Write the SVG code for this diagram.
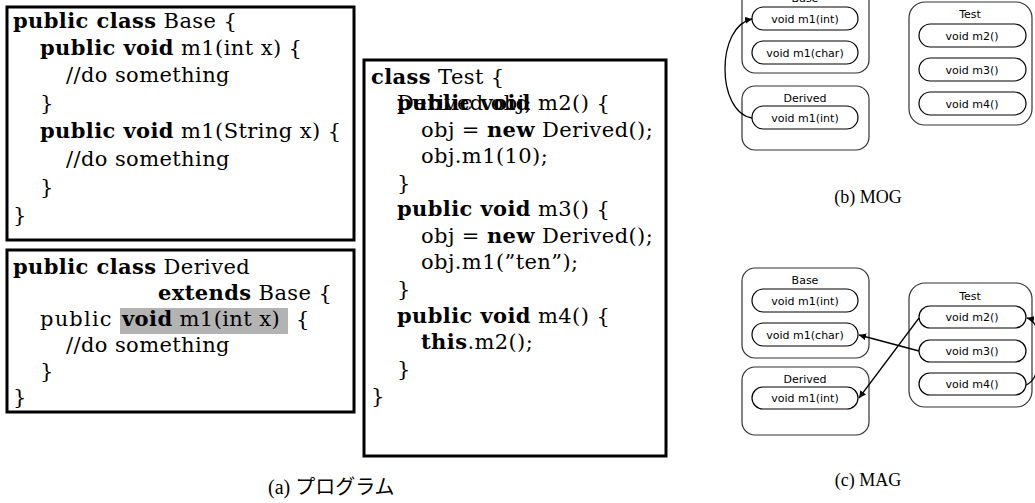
<svg xmlns="http://www.w3.org/2000/svg" width="1035" height="503" viewBox="0 0 1035 503">
<style>
.box{fill:#fff;stroke:#000;stroke-width:3}
.code{font-family:"DejaVu Serif","Liberation Serif",serif;font-size:21px;letter-spacing:0.4px;fill:#000}
.b{font-weight:bold}
.cap{font-family:"Liberation Serif","Noto Sans CJK JP",serif;font-size:20px;fill:#000}
.capr{font-family:"Liberation Serif",serif;font-size:18px;fill:#000;text-anchor:middle}
.cls{fill:#fff;stroke:#333;stroke-width:1.2}
.pill{fill:#fff;stroke:#000;stroke-width:1.2}
.lbl{font-family:"DejaVu Sans","Liberation Sans",sans-serif;font-size:11px;fill:#000;text-anchor:middle}
.edge{fill:none;stroke:#000;stroke-width:1.3}
</style>
<defs>
<marker id="ah" viewBox="0 0 10 10" refX="10" refY="5" markerWidth="7" markerHeight="7" orient="auto" markerUnits="userSpaceOnUse">
<path d="M0,0 L10,5 L0,10 z" fill="#000"/>
</marker>
</defs>

<g id="code-base">
<rect class="box" x="7" y="7" width="347" height="233"/>
<text class="code" x="13" y="28"><tspan class="b">public class</tspan> Base {</text>
<text class="code" x="40" y="55"><tspan class="b">public void</tspan> m1(int x) {</text>
<text class="code" x="66" y="82">//do something</text>
<text class="code" x="40" y="110">}</text>
<text class="code" x="40" y="138"><tspan class="b">public void</tspan> m1(String x) {</text>
<text class="code" x="66" y="166">//do something</text>
<text class="code" x="40" y="194">}</text>
<text class="code" x="13" y="222">}</text>
</g>

<g id="code-derived">
<rect class="box" x="7" y="250" width="347" height="162"/>
<rect x="120" y="308" width="168" height="26" fill="#b3b3b3"/>
<text class="code" x="40" y="326" textLength="72">public</text>
<text class="code" x="13" y="274"><tspan class="b">public class</tspan> Derived</text>
<text class="code" x="158" y="300"><tspan class="b">extends</tspan> Base {</text>
<text class="code" x="122" y="326"><tspan class="b">void</tspan> m1(int x)</text>
<text class="code" x="296" y="326">{</text>
<text class="code" x="66" y="352">//do something</text>
<text class="code" x="40" y="378">}</text>
<text class="code" x="13" y="404">}</text>
</g>

<g id="code-test">
<rect class="box" x="364" y="60" width="302" height="396"/>
<text class="code" x="371" y="84"><tspan class="b">class</tspan> Test {</text>
<text class="code" x="397" y="110">Derived obj;</text>
<text class="code" x="397" y="110"><tspan class="b">public void</tspan> m2() {</text>
<text class="code" x="421" y="137">obj = <tspan class="b">new</tspan> Derived();</text>
<text class="code" x="421" y="163">obj.m1(10);</text>
<text class="code" x="397" y="190">}</text>
<text class="code" x="397" y="216"><tspan class="b">public void</tspan> m3() {</text>
<text class="code" x="421" y="243">obj = <tspan class="b">new</tspan> Derived();</text>
<text class="code" x="421" y="269">obj.m1(”ten”);</text>
<text class="code" x="397" y="296">}</text>
<text class="code" x="397" y="323"><tspan class="b">public void</tspan> m4() {</text>
<text class="code" x="421" y="349"><tspan class="b">this</tspan>.m2();</text>
<text class="code" x="397" y="376">}</text>
<text class="code" x="371" y="403">}</text>
</g>

<text class="cap" x="268" y="494">(a) プログラム</text>

<!-- MOG -->
<g id="mog-base">
<rect class="cls" x="742" y="-17" width="127" height="90" rx="13"/>
<text class="lbl" x="805" y="2">Base</text>
<rect class="pill" x="752" y="7" width="106" height="23" rx="11.5"/>
<text class="lbl" x="805" y="22.5">void m1(int)</text>
<rect class="pill" x="752" y="41" width="106" height="23" rx="11.5"/>
<text class="lbl" x="805" y="56.5">void m1(char)</text>
</g>
<g id="mog-derived">
<rect class="cls" x="742" y="86" width="127" height="64" rx="13"/>
<text class="lbl" x="805" y="102">Derived</text>
<rect class="pill" x="752" y="106" width="106" height="23" rx="11.5"/>
<text class="lbl" x="805" y="121.5">void m1(int)</text>
</g>
<g id="mog-test">
<rect class="cls" x="909" y="2" width="123" height="123" rx="16"/>
<text class="lbl" x="970" y="18">Test</text>
<rect class="pill" x="919" y="24" width="107" height="23" rx="11.5"/>
<text class="lbl" x="972" y="39.5">void m2()</text>
<rect class="pill" x="919" y="58" width="107" height="23" rx="11.5"/>
<text class="lbl" x="972" y="73.5">void m3()</text>
<rect class="pill" x="919" y="92" width="107" height="23" rx="11.5"/>
<text class="lbl" x="972" y="107.5">void m4()</text>
</g>

<text class="capr" x="868" y="203">(b) MOG</text>

<!-- MAG -->
<g id="mag-base">
<rect class="cls" x="742" y="268" width="127" height="90" rx="13"/>
<text class="lbl" x="805" y="284">Base</text>
<rect class="pill" x="752" y="289" width="106" height="23" rx="11.5"/>
<text class="lbl" x="805" y="304.5">void m1(int)</text>
<rect class="pill" x="752" y="323" width="106" height="23" rx="11.5"/>
<text class="lbl" x="805" y="338.5">void m1(char)</text>
</g>
<g id="mag-derived">
<rect class="cls" x="742" y="367" width="127" height="68" rx="13"/>
<text class="lbl" x="805" y="383">Derived</text>
<rect class="pill" x="752" y="387" width="106" height="22" rx="11"/>
<text class="lbl" x="805" y="402">void m1(int)</text>
</g>
<g id="mag-test">
<rect class="cls" x="909" y="283" width="123" height="124" rx="16"/>
<text class="lbl" x="970" y="300">Test</text>
<rect class="pill" x="919" y="306" width="107" height="22" rx="11"/>
<text class="lbl" x="972" y="321">void m2()</text>
<rect class="pill" x="919" y="340" width="107" height="22" rx="11"/>
<text class="lbl" x="972" y="355">void m3()</text>
<rect class="pill" x="919" y="373" width="107" height="22" rx="11"/>
<text class="lbl" x="972" y="388">void m4()</text>
</g>

<text class="capr" x="868" y="486">(c) MAG</text>

<g id="connectors">
<path class="edge" d="M752,118 C716,112 716,26 752,19" marker-end="url(#ah)"/>
<path class="edge" d="M919,351 L859,335" marker-end="url(#ah)"/>
<path class="edge" d="M919,318 L859,398" marker-end="url(#ah)"/>
<path class="edge" d="M1026,385 C1045,378 1045,322 1027,318" marker-end="url(#ah)"/>
</g>
</svg>
